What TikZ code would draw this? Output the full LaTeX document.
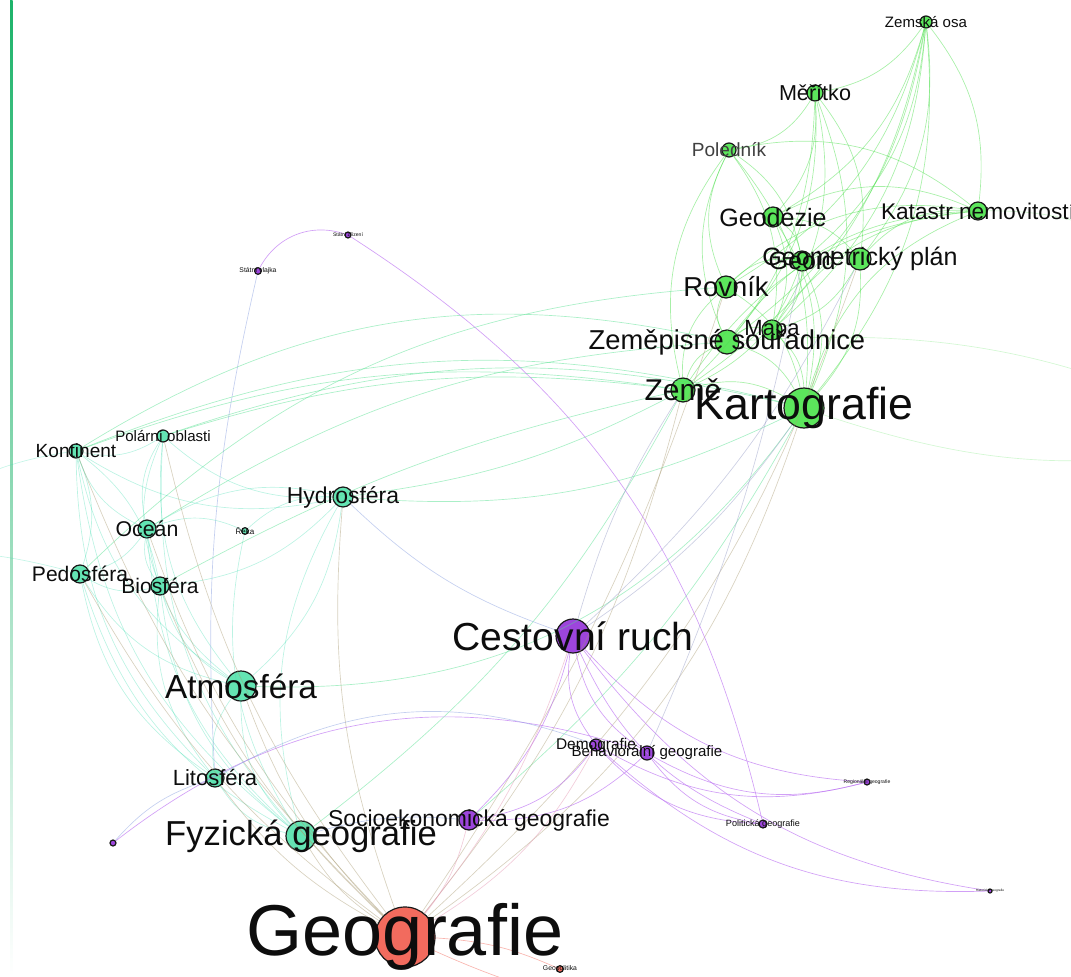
\documentclass[tikz,border=0pt]{standalone}
\usepackage{fontspec}
\setmainfont{Liberation Sans}
\usepackage{tikz}
\usetikzlibrary{positioning}

\definecolor{zelena}{HTML}{5CE65C}
\definecolor{tyrkys}{HTML}{64E4B3}
\definecolor{fialova}{HTML}{9D45DC}
\definecolor{cervena}{HTML}{F26B5E}
\definecolor{pruh}{HTML}{1DB36A}
\definecolor{hzel}{HTML}{4FE04F}
\definecolor{htyr}{HTML}{3FDDB0}
\definecolor{hfial}{HTML}{BE78F2}
\definecolor{hzt}{HTML}{55E090}
\definecolor{hcerv}{HTML}{A89A72}
\definecolor{hfz}{HTML}{9AA0C8}
\definecolor{hft}{HTML}{8AA0E0}
\definecolor{hcf}{HTML}{E59AB5}

\newcommand{\vel}[1]{\fontsize{#1}{#1}\selectfont}

\begin{document}
\begin{tikzpicture}[x=0.75pt,y=0.75pt]
% styly
\tikzstyle uzel=[circle,draw=black!90,line width=0.9pt,inner sep=0pt]
\tikzstyle uzelzel=[uzel,fill=zelena]
\tikzstyle uzeltyr=[uzel,fill=tyrkys]
\tikzstyle uzelfial=[uzel,fill=fialova]
\tikzstyle uzelcerv=[uzel,fill=cervena]
\tikzstyle popis=[inner sep=0pt,text=black!95]
\tikzstyle hrana=[line width=0.5pt,draw opacity=0.5]
\tikzstyle hranazel=[hrana,draw=hzel]
\tikzstyle hranatyr=[hrana,draw=htyr,draw opacity=0.35]
\tikzstyle hranafial=[hrana,draw=hfial,draw opacity=0.7]
\tikzstyle hranazt=[hrana,draw=hzt]
\tikzstyle hranacerv=[hrana,draw=hcerv,draw opacity=0.45]
\tikzstyle hranafz=[hrana,draw=hfz]
\tikzstyle hranaft=[hrana,draw=hft]
\tikzstyle hranacf=[hrana,draw=hcf]

\useasboundingbox (0,0) rectangle (1071,-977);
% pruh vlevo
\shade[top color=pruh,bottom color=white] (10,0) rectangle (12.5,-977);

% uzly - kartografie
\node[uzelzel,minimum size=9pt] (zemosa) at (926,-22) {};
\node[uzelzel,minimum size=12pt] (meritko) at (815,-93) {};
\node[uzelzel,minimum size=10.5pt] (polednik) at (729,-150) {};
\node[uzelzel,minimum size=15pt] (geodezie) at (773,-217) {};
\node[uzelzel,minimum size=13.5pt] (katastr) at (978,-211) {};
\node[uzelzel,minimum size=16.5pt] (geomplan) at (860,-259) {};
\node[uzelzel,minimum size=15pt] (geoid) at (802,-261) {};
\node[uzelzel,minimum size=16.5pt] (rovnik) at (726,-287) {};
\node[uzelzel,minimum size=15pt] (mapa) at (772,-330) {};
\node[uzelzel,minimum size=18pt] (zemsour) at (727,-342) {};
\node[uzelzel,minimum size=18pt] (zeme) at (683,-390) {};
\node[uzelzel,minimum size=30pt] (karto) at (804,-408) {};
% uzly - fyzicka geografie
\node[uzeltyr,minimum size=9pt] (polarni) at (163,-436) {};
\node[uzeltyr,minimum size=10.5pt] (kontinent) at (76,-451) {};
\node[uzeltyr,minimum size=15pt] (hydro) at (343,-497) {};
\node[uzeltyr,minimum size=13.5pt] (ocean) at (147,-529) {};
\node[uzeltyr,minimum size=5pt] (reka) at (245,-531) {};
\node[uzeltyr,minimum size=13.5pt] (pedo) at (80,-574) {};
\node[uzeltyr,minimum size=13.5pt] (bio) at (160,-586) {};
\node[uzeltyr,minimum size=22.5pt] (atmo) at (241,-686) {};
\node[uzeltyr,minimum size=13.5pt] (lito) at (215,-778) {};
\node[uzeltyr,minimum size=22.5pt] (fyz) at (301,-836) {};
% uzly - socioekonomicka geografie
\node[uzelfial,minimum size=4.5pt] (stzriz) at (348,-235) {};
\node[uzelfial,minimum size=5pt] (stvlaj) at (258,-271) {};
\node[uzelfial,minimum size=25.5pt] (cestruch) at (573,-636) {};
\node[uzelfial,minimum size=9pt] (demo) at (596,-745) {};
\node[uzelfial,minimum size=10.5pt] (behav) at (647,-753) {};
\node[uzelfial,minimum size=4.5pt] (region) at (867,-782) {};
\node[uzelfial,minimum size=15pt] (soc) at (469,-820) {};
\node[uzelfial,minimum size=6pt] (polit) at (763,-824) {};
\node[uzelfial,minimum size=4.5pt] (bezjm) at (113,-843) {};
\node[uzelfial,minimum size=3pt] (hist) at (990,-891) {};
% uzly - geografie
\node[uzelcerv,minimum size=45pt] (geografie) at (405,-937) {};
\node[uzelcerv,minimum size=5pt] (geopol) at (560,-969) {};
\coordinate (mimovpravo) at (1250,-440);
\coordinate (mimonahore) at (1180,-280);
\coordinate (mimovlevo) at (-120,-555);
\coordinate (mimodole) at (640,-1010);

% hrany
\foreach \a/\b in {zemosa/meritko,zemosa/geoid,zemosa/geomplan,zemosa/karto,zemosa/rovnik,zemosa/zeme,zemosa/zemsour,zemosa/mapa,zemosa/geodezie,zemosa/katastr,
  meritko/karto,meritko/mapa,meritko/geodezie,meritko/zeme,meritko/geomplan,meritko/zemsour,
  polednik/karto,polednik/geoid,polednik/mapa,
  geodezie/karto,geodezie/geoid,geodezie/mapa,geodezie/geomplan,
  geomplan/karto,geomplan/mapa,geoid/karto,geoid/zeme,
  rovnik/karto,mapa/karto,zemsour/karto,zeme/karto,geoid/mapa}
  \draw[hranazel] (\a) to[bend left=22] (\b);
\foreach \a/\b in {polednik/meritko,polednik/rovnik,polednik/zemsour,polednik/zeme,
  katastr/geomplan,katastr/karto,katastr/mapa,katastr/zemsour,katastr/rovnik,katastr/polednik,katastr/geodezie,katastr/zeme,
  rovnik/zeme,rovnik/zemsour,mapa/zemsour,zemsour/zeme,geoid/rovnik}
  \draw[hranazel] (\a) to[bend right=25] (\b);
\draw[hranazel,draw opacity=0.25] (karto) to[bend right=15] (mimovpravo);
\draw[hranazel,draw opacity=0.25] (katastr) to[bend left=20] (mimonahore);
\draw[hranazel,draw opacity=0.25] (zemsour) to[bend left=15] (mimovpravo);

% dlouhe oblouky
\draw[hranazt] (kontinent) to[bend left=22] (zemsour);
\draw[hranazt] (kontinent) to[bend left=18] (karto);
\draw[hranazt] (kontinent) to[bend left=14] (zeme);
\draw[hranazt] (polarni) to[bend left=16] (karto);
\draw[hranazt] (polarni) to[bend left=12] (zeme);
\draw[hranazt] (ocean) to[bend left=14] (zemsour);
\draw[hranazt] (pedo) to[bend left=20] (rovnik);
\draw[hranazt] (bio) to[bend left=8] (zeme);
\draw[hranazt] (hydro) to[bend right=15] (karto);
\draw[hranazt] (hydro) to[bend right=10] (zeme);
\draw[hranazt] (atmo) to[bend right=28] (karto);
\draw[hranazt] (fyz) to[bend right=12] (zeme);
\draw[hranazt] (soc) to[bend right=10] (karto);

\foreach \a/\b in {kontinent/polarni,kontinent/ocean,kontinent/hydro,kontinent/atmo,kontinent/lito,
  polarni/ocean,polarni/hydro,polarni/bio,polarni/atmo,hydro/ocean,hydro/reka,
  ocean/bio,ocean/atmo,ocean/fyz,pedo/bio,pedo/atmo,pedo/lito,pedo/fyz,
  bio/atmo,bio/lito,bio/fyz,atmo/lito,atmo/fyz,lito/fyz,reka/fyz,reka/ocean,polarni/fyz,hydro/fyz,kontinent/fyz}
  \draw[hranatyr] (\a) to[bend right=22] (\b);
\foreach \a/\b in {kontinent/pedo,kontinent/bio,ocean/pedo,hydro/atmo,hydro/bio}
  \draw[hranatyr] (\a) to[bend left=20] (\b);
\draw[hranatyr,draw opacity=0.3] (pedo) to[bend right=10] (mimovlevo);
\draw[hranatyr,draw opacity=0.3] (kontinent) to[bend right=20] (mimovlevo);

\foreach \a/\b in {fyz,atmo,lito,bio,pedo,kontinent,ocean,hydro,polarni}
  \draw[hranacerv] (geografie) to[bend left=12] (\a);
\draw[hranacerv] (geografie) to[bend right=18] (karto);
\draw[hranacerv] (geografie) to[bend right=12] (zeme);
\draw[hranacerv] (geografie) to[bend right=8] (rovnik);
\draw[hranacerv] (geografie) to[bend right=14] (geomplan);
\draw[hrana,draw=cervena] (geografie) to[bend left=10] (geopol);
\draw[hrana,draw=cervena] (geografie) to[bend right=8] (mimodole);

\draw[hranafial] (stvlaj) to[bend left=40] (stzriz);
\draw[hranafial] (stzriz) to[bend left=22] (polit);
\foreach \a/\b in {cestruch/demo,cestruch/behav,cestruch/region,cestruch/polit,cestruch/hist,
  demo/polit,demo/region,demo/hist,behav/region,behav/polit,soc/behav,soc/demo}
  \draw[hranafial] (\a) to[bend right=22] (\b);
\draw[hranafial] (behav) to[bend right=28] (bezjm);
\draw[hranafial] (cestruch) to[bend left=15] (soc);
\draw[hranaft] (stvlaj) to[bend right=8] (lito);
\draw[hranaft] (bezjm) to[bend left=15] (lito);
\draw[hranaft] (hydro) to[bend right=12] (cestruch);
\draw[hranaft] (soc) to[bend right=10] (fyz);
\draw[hranaft] (lito) to[bend left=25] (demo);
\draw[hranafz] (cestruch) to[bend right=10] (karto);
\draw[hranafz] (cestruch) to[bend left=8] (zeme);
\draw[hranafz] (geomplan) to[bend left=10] (cestruch);
\draw[hranafz] (geoid) to[bend left=6] (behav);
\draw[hranacf] (geografie) to[bend right=12] (soc);
\draw[hranacf] (geografie) to[bend right=15] (demo);
\draw[hranacf] (geografie) to[bend right=10] (cestruch);

% popisky
\node[popis,font=\vel{11.3}] (zemosa-t) at (zemosa) {Zemská osa};
\node[popis,font=\vel{16.2}] (meritko-t) at (meritko) {Měřítko};
\node[popis,font=\vel{14.3},text=black!75] (polednik-t) at (polednik) {Poledník};
\node[popis,font=\vel{18.8}] (geodezie-t) at (geodezie) {Geodézie};
\node[popis,font=\vel{17}] (katastr-t) at (katastr) {Katastr nemovitostí};
\node[popis,font=\vel{18.8}] (geoid-t) at (geoid) {Geoid};
\node[popis,font=\vel{18.8}] (geomplan-t) at (geomplan) {Geometrický plán};
\node[popis,font=\vel{20.5}] (rovnik-t) at (rovnik) {Rovník};
\node[popis,font=\vel{16.5}] (mapa-t) at (mapa) {Mapa};
\node[popis,font=\vel{20.5}] (zemsour-t) at (zemsour) {Zeměpisné souřadnice};
\node[popis,font=\vel{22.5}] (zeme-t) at (zeme) {Země};
\node[popis,font=\vel{33.5}] (karto-t) at (karto) {Kartografie};
\node[popis,font=\vel{11.3}] (polarni-t) at (polarni) {Polární oblasti};
\node[popis,font=\vel{14.3}] (kontinent-t) at (kontinent) {Kontinent};
\node[popis,font=\vel{17.2}] (hydro-t) at (hydro) {Hydrosféra};
\node[popis,font=\vel{16}] (ocean-t) at (ocean) {Oceán};
\node[popis,font=\vel{6}] (reka-t) at (reka) {Řeka};
\node[popis,font=\vel{15.8}] (pedo-t) at (pedo) {Pedosféra};
\node[popis,font=\vel{15.8}] (bio-t) at (bio) {Biosféra};
\node[popis,font=\vel{25}] (atmo-t) at (atmo) {Atmosféra};
\node[popis,font=\vel{16.5}] (lito-t) at (lito) {Litosféra};
\node[popis,font=\vel{26}] (fyz-t) at (fyz) {Fyzická geografie};
\node[popis,font=\vel{3.8}] (stzriz-t) at (stzriz) {Státní zřízení};
\node[popis,font=\vel{5.1}] (stvlaj-t) at (stvlaj) {Státní vlajka};
\node[popis,font=\vel{29.3}] (cestruch-t) at (cestruch) {Cestovní ruch};
\node[popis,font=\vel{11.6}] (demo-t) at (demo) {Demografie};
\node[popis,font=\vel{11.3}] (behav-t) at (behav) {Behaviorální geografie};
\node[popis,font=\vel{3.8}] (region-t) at (region) {Regionální geografie};
\node[popis,font=\vel{17.2}] (soc-t) at (soc) {Socioekonomická geografie};
\node[popis,font=\vel{6.8}] (polit-t) at (polit) {Politická geografie};
\node[popis,font=\vel{2.4}] (hist-t) at (hist) {Historická geografie};
\node[popis,font=\vel{54}] (geografie-t) at (geografie) {Geografie};
\node[popis,font=\vel{5.1}] (geopol-t) at (geopol) {Geopolitika};
\end{tikzpicture}
\end{document}
